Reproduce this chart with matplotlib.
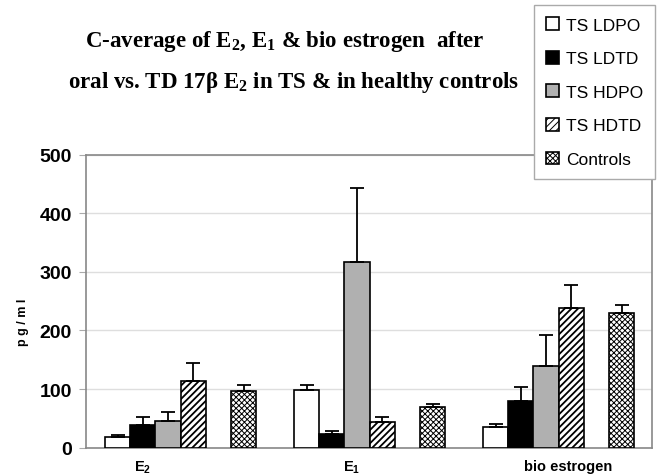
import matplotlib
matplotlib.use("Agg")
import matplotlib.pyplot as plt
import numpy as np

# data (pg/ml)
categories = ["E$_\\mathbf{2}$", "E$_\\mathbf{1}$", "bio estrogen"]
series = ["TS LDPO", "TS LDTD", "TS HDPO", "TS HDTD", "Controls"]
ts_ldpo = [18, 99, 35]
ts_ldtd = [38, 23, 79]
ts_hdpo = [46, 316, 139]
ts_hdtd = [113, 43, 238]
controls = [96, 70, 230]
err_ldpo = [3, 8, 6]
err_ldtd = [14, 6, 25]
err_hdpo = [15, 127, 53]
err_hdtd = [32, 9, 40]
err_controls = [11, 5, 14]

values = [ts_ldpo, ts_ldtd, ts_hdpo, ts_hdtd, controls]
errors = [err_ldpo, err_ldtd, err_hdpo, err_hdtd, err_controls]

plt.rcParams["font.family"] = ["Liberation Sans", "DejaVu Sans"]
plt.rcParams["mathtext.fontset"] = "custom"
plt.rcParams["mathtext.rm"] = "Liberation Serif:bold"
plt.rcParams["mathtext.bf"] = "Liberation Sans:bold"
plt.rcParams["mathtext.default"] = "rm"

fig = plt.figure(figsize=(6.59, 4.77), dpi=100)
ax = fig.add_axes([0.1305, 0.0595, 0.8585, 0.6141])

group_step = 7.5
slots = [0, 1, 2, 3, 5]
styles = [
    dict(color="white", hatch=None, hlw=1.0),
    dict(color="black", hatch=None, hlw=1.0),
    dict(color="#b0b0b0", hatch=None, hlw=1.0),
    dict(color="white", hatch="/////", hlw=1.3),
    dict(color="white", hatch="xxxxxx", hlw=0.7),
]
base = np.arange(len(categories)) * group_step

for i, name in enumerate(series):
    plt.rcParams["hatch.linewidth"] = styles[i]["hlw"]
    x = base + slots[i] + 0.5
    ax.bar(x, values[i], width=1.0, color=styles[i]["color"], hatch=styles[i]["hatch"],
           edgecolor="black", linewidth=1.2, label=name, zorder=3)
    ax.errorbar(x, values[i], yerr=[np.zeros(3), errors[i]], fmt="none",
                ecolor="black", elinewidth=1.3, capsize=5, capthick=1.3, zorder=4)

ax.set_xlim(-0.75, 21.7)
ax.set_ylim(0, 500)
ax.set_yticks([0, 100, 200, 300, 400, 500])
ax.yaxis.grid(True, color="#dedede", linewidth=1.0, zorder=0)
ax.set_axisbelow(True)
for lbl in ax.get_yticklabels():
    lbl.set_fontweight("bold")
    lbl.set_fontsize(14)
ax.tick_params(axis="y", length=5, color="#aaaaaa", pad=5)
ax.tick_params(axis="x", length=0, pad=8)
ax.set_xticks(base + np.array([1.5, 2.3, 3.4]))
ax.set_xticklabels(categories, fontsize=10.5, fontweight="bold")
ax.set_ylabel("p g / m l", fontsize=9, fontweight="bold")
ax.yaxis.set_label_coords(-0.1, 0.43)
for s in ax.spines.values():
    s.set_color("#888888")
    s.set_linewidth(1.2)

title_font = ["Liberation Serif", "DejaVu Serif"]
fig.text(0.432, 0.912, "C-average of E$_2$, E$_1$ & bio estrogen  after",
         ha="center", va="center", fontsize=16.5, fontweight="bold", family=title_font)
fig.text(0.445, 0.826, "oral vs. TD 17\u03b2 E$_2$ in TS & in healthy controls",
         ha="center", va="center", fontsize=16.5, fontweight="bold", family=title_font)

leg = fig.legend(loc="upper right", bbox_to_anchor=(655 / 659, 1 - 6 / 477), fontsize=12.5,
                 fancybox=False, edgecolor="#aaaaaa", framealpha=1, borderaxespad=0,
                 handlelength=0.75, handleheight=0.75, handletextpad=0.4,
                 labelspacing=1.05, borderpad=0.7)
leg.get_frame().set_linewidth(1.0)

fig.savefig("out.png", dpi=100)
